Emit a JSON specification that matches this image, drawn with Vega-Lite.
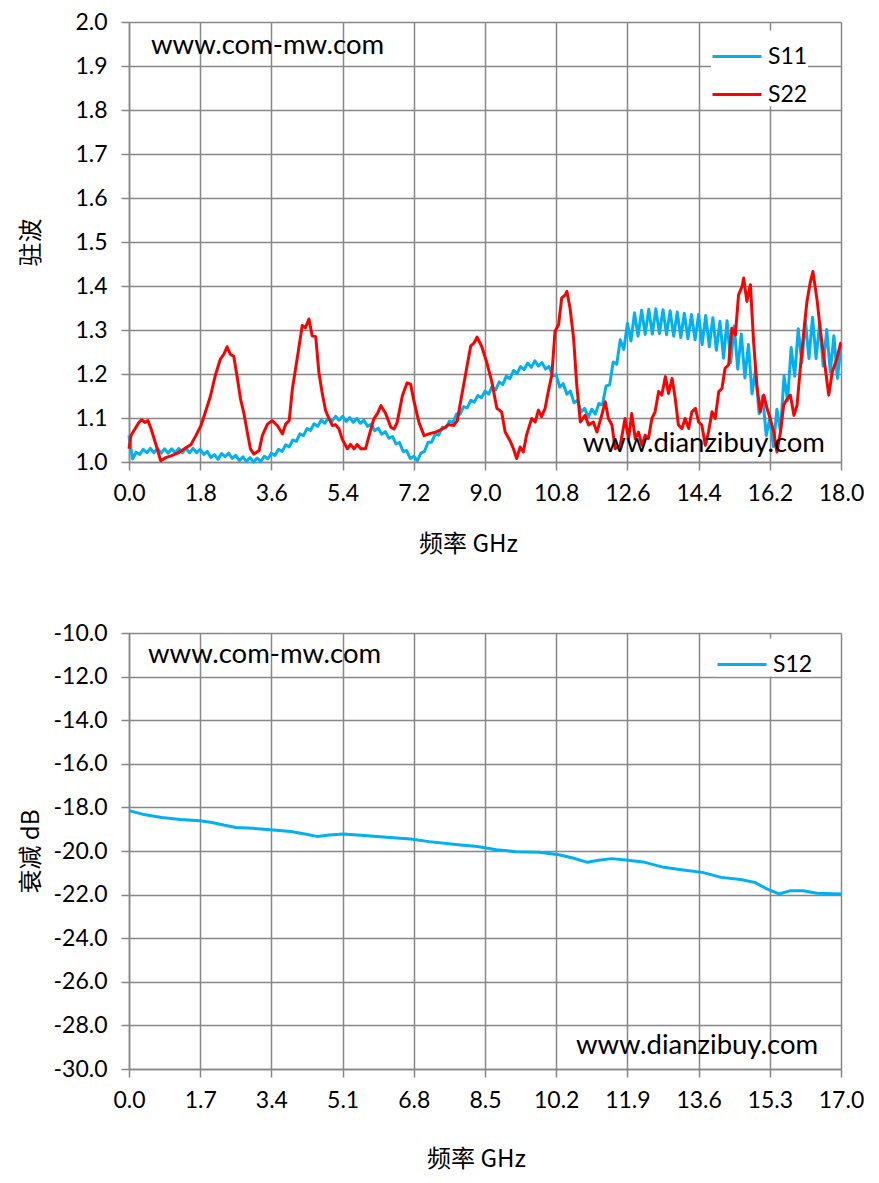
{
  "$schema": "https://vega.github.io/schema/vega-lite/v6.json",
  "background": "white",
  "padding": {"left": 19, "top": 11, "right": 0, "bottom": 20},
  "spacing": 66,
  "datasets": {
    "s11": [
      {"f":0,"v":1.06},{"f":0.09,"v":1.007},{"f":0.18,"v":1.022},{"f":0.27,"v":1.017},{"f":0.36,"v":1.029},{"f":0.45,"v":1.021},
      {"f":0.54,"v":1.031},{"f":0.63,"v":1.021},{"f":0.72,"v":1.031},{"f":0.81,"v":1.02},{"f":0.9,"v":1.03},{"f":0.99,"v":1.02},
      {"f":1.08,"v":1.03},{"f":1.17,"v":1.021},{"f":1.26,"v":1.031},{"f":1.35,"v":1.021},{"f":1.44,"v":1.031},{"f":1.53,"v":1.021},
      {"f":1.62,"v":1.031},{"f":1.71,"v":1.021},{"f":1.8,"v":1.029},{"f":1.89,"v":1.017},{"f":1.98,"v":1.024},{"f":2.07,"v":1.01},
      {"f":2.16,"v":1.017},{"f":2.25,"v":1.006},{"f":2.34,"v":1.019},{"f":2.43,"v":1.012},{"f":2.52,"v":1.02},{"f":2.61,"v":1.008},
      {"f":2.7,"v":1.015},{"f":2.79,"v":1.003},{"f":2.88,"v":1.012},{"f":2.97,"v":1.001},{"f":3.06,"v":1.01},{"f":3.15,"v":1.0},
      {"f":3.24,"v":1.009},{"f":3.33,"v":1.001},{"f":3.42,"v":1.013},{"f":3.51,"v":1.007},{"f":3.6,"v":1.02},{"f":3.69,"v":1.015},
      {"f":3.78,"v":1.029},{"f":3.87,"v":1.024},{"f":3.96,"v":1.039},{"f":4.05,"v":1.034},{"f":4.14,"v":1.05},{"f":4.23,"v":1.047},
      {"f":4.32,"v":1.064},{"f":4.41,"v":1.06},{"f":4.5,"v":1.076},{"f":4.59,"v":1.072},{"f":4.68,"v":1.087},{"f":4.77,"v":1.081},
      {"f":4.86,"v":1.095},{"f":4.95,"v":1.088},{"f":5.04,"v":1.1},{"f":5.13,"v":1.092},{"f":5.22,"v":1.104},{"f":5.31,"v":1.095},
      {"f":5.4,"v":1.104},{"f":5.49,"v":1.092},{"f":5.58,"v":1.101},{"f":5.67,"v":1.09},{"f":5.76,"v":1.099},{"f":5.85,"v":1.088},
      {"f":5.94,"v":1.095},{"f":6.03,"v":1.081},{"f":6.12,"v":1.086},{"f":6.21,"v":1.071},{"f":6.3,"v":1.077},{"f":6.39,"v":1.063},
      {"f":6.48,"v":1.069},{"f":6.57,"v":1.054},{"f":6.66,"v":1.058},{"f":6.75,"v":1.041},{"f":6.84,"v":1.044},{"f":6.93,"v":1.024},
      {"f":7.02,"v":1.026},{"f":7.11,"v":1.008},{"f":7.2,"v":1.013},{"f":7.29,"v":1.003},{"f":7.38,"v":1.02},{"f":7.47,"v":1.024},
      {"f":7.56,"v":1.045},{"f":7.65,"v":1.045},{"f":7.74,"v":1.063},{"f":7.83,"v":1.061},{"f":7.92,"v":1.079},{"f":8.01,"v":1.077},
      {"f":8.1,"v":1.093},{"f":8.19,"v":1.09},{"f":8.28,"v":1.109},{"f":8.37,"v":1.109},{"f":8.46,"v":1.126},{"f":8.55,"v":1.123},
      {"f":8.64,"v":1.14},{"f":8.73,"v":1.136},{"f":8.82,"v":1.151},{"f":8.91,"v":1.146},{"f":9.0,"v":1.161},{"f":9.09,"v":1.154},
      {"f":9.18,"v":1.171},{"f":9.27,"v":1.164},{"f":9.36,"v":1.182},{"f":9.45,"v":1.176},{"f":9.54,"v":1.195},{"f":9.63,"v":1.189},
      {"f":9.72,"v":1.208},{"f":9.81,"v":1.201},{"f":9.9,"v":1.217},{"f":9.99,"v":1.21},{"f":10.08,"v":1.225},{"f":10.17,"v":1.215},
      {"f":10.26,"v":1.23},{"f":10.35,"v":1.218},{"f":10.44,"v":1.226},{"f":10.53,"v":1.211},{"f":10.62,"v":1.217},{"f":10.71,"v":1.196},
      {"f":10.8,"v":1.198},{"f":10.89,"v":1.17},{"f":10.98,"v":1.178},{"f":11.07,"v":1.154},{"f":11.16,"v":1.161},{"f":11.25,"v":1.135},
      {"f":11.34,"v":1.14},{"f":11.43,"v":1.114},{"f":11.52,"v":1.122},{"f":11.61,"v":1.102},{"f":11.7,"v":1.12},{"f":11.79,"v":1.109},
      {"f":11.88,"v":1.133},{"f":11.97,"v":1.13},{"f":12.06,"v":1.173},{"f":12.15,"v":1.175},{"f":12.24,"v":1.227},{"f":12.33,"v":1.222},
      {"f":12.42,"v":1.278},{"f":12.51,"v":1.256},{"f":12.6,"v":1.315},{"f":12.69,"v":1.275},{"f":12.78,"v":1.339},{"f":12.87,"v":1.286},
      {"f":12.96,"v":1.345},{"f":13.05,"v":1.29},{"f":13.14,"v":1.347},{"f":13.23,"v":1.291},{"f":13.32,"v":1.348},{"f":13.41,"v":1.292},
      {"f":13.5,"v":1.346},{"f":13.59,"v":1.289},{"f":13.68,"v":1.344},{"f":13.77,"v":1.286},{"f":13.86,"v":1.341},{"f":13.95,"v":1.283},
      {"f":14.04,"v":1.338},{"f":14.13,"v":1.28},{"f":14.22,"v":1.335},{"f":14.31,"v":1.278},{"f":14.4,"v":1.335},{"f":14.49,"v":1.267},
      {"f":14.58,"v":1.333},{"f":14.67,"v":1.262},{"f":14.76,"v":1.328},{"f":14.85,"v":1.254},{"f":14.94,"v":1.32},{"f":15.03,"v":1.236},
      {"f":15.12,"v":1.321},{"f":15.21,"v":1.226},{"f":15.3,"v":1.309},{"f":15.39,"v":1.211},{"f":15.48,"v":1.291},{"f":15.57,"v":1.191},
      {"f":15.66,"v":1.267},{"f":15.75,"v":1.155},{"f":15.84,"v":1.21},{"f":15.93,"v":1.11},{"f":16.02,"v":1.15},{"f":16.11,"v":1.06},
      {"f":16.2,"v":1.1},{"f":16.29,"v":1.035},{"f":16.38,"v":1.12},{"f":16.47,"v":1.07},{"f":16.56,"v":1.195},{"f":16.65,"v":1.14},
      {"f":16.74,"v":1.26},{"f":16.83,"v":1.195},{"f":16.92,"v":1.303},{"f":17.01,"v":1.225},{"f":17.1,"v":1.322},{"f":17.19,"v":1.235},
      {"f":17.28,"v":1.329},{"f":17.37,"v":1.235},{"f":17.46,"v":1.316},{"f":17.55,"v":1.218},{"f":17.64,"v":1.301},{"f":17.73,"v":1.205},
      {"f":17.82,"v":1.287},{"f":17.91,"v":1.19},{"f":18.0,"v":1.265}
    ],
    "s22": [
      {"f":0,"v":1.03},{"f":0.05,"v":1.06},{"f":0.15,"v":1.075},{"f":0.25,"v":1.09},{"f":0.32,"v":1.096},{"f":0.4,"v":1.09},
      {"f":0.48,"v":1.094},{"f":0.56,"v":1.075},{"f":0.69,"v":1.037},{"f":0.8,"v":1.003},{"f":0.93,"v":1.01},{"f":1.06,"v":1.014},
      {"f":1.23,"v":1.02},{"f":1.4,"v":1.03},{"f":1.57,"v":1.04},{"f":1.69,"v":1.06},{"f":1.82,"v":1.083},{"f":1.93,"v":1.113},
      {"f":2.06,"v":1.15},{"f":2.18,"v":1.196},{"f":2.31,"v":1.234},{"f":2.4,"v":1.245},{"f":2.48,"v":1.262},{"f":2.56,"v":1.245},
      {"f":2.65,"v":1.24},{"f":2.73,"v":1.196},{"f":2.82,"v":1.143},{"f":2.9,"v":1.113},{"f":2.99,"v":1.068},{"f":3.07,"v":1.03},
      {"f":3.16,"v":1.018},{"f":3.29,"v":1.026},{"f":3.37,"v":1.06},{"f":3.5,"v":1.086},{"f":3.62,"v":1.094},{"f":3.75,"v":1.083},
      {"f":3.88,"v":1.064},{"f":3.96,"v":1.086},{"f":4.05,"v":1.094},{"f":4.13,"v":1.166},{"f":4.26,"v":1.24},{"f":4.38,"v":1.31},
      {"f":4.46,"v":1.305},{"f":4.55,"v":1.325},{"f":4.63,"v":1.287},{"f":4.72,"v":1.285},{"f":4.8,"v":1.204},{"f":4.88,"v":1.159},
      {"f":4.97,"v":1.117},{"f":5.05,"v":1.1},{"f":5.14,"v":1.083},{"f":5.22,"v":1.085},{"f":5.31,"v":1.075},{"f":5.39,"v":1.052},
      {"f":5.52,"v":1.03},{"f":5.6,"v":1.04},{"f":5.69,"v":1.03},{"f":5.77,"v":1.04},{"f":5.86,"v":1.03},{"f":5.98,"v":1.03},
      {"f":6.07,"v":1.06},{"f":6.19,"v":1.098},{"f":6.28,"v":1.11},{"f":6.37,"v":1.128},{"f":6.49,"v":1.11},{"f":6.62,"v":1.079},
      {"f":6.7,"v":1.075},{"f":6.78,"v":1.09},{"f":6.91,"v":1.15},{"f":7.03,"v":1.18},{"f":7.12,"v":1.177},{"f":7.2,"v":1.14},
      {"f":7.33,"v":1.09},{"f":7.46,"v":1.06},{"f":7.58,"v":1.064},{"f":7.75,"v":1.068},{"f":7.92,"v":1.075},{"f":8.09,"v":1.085},
      {"f":8.21,"v":1.083},{"f":8.3,"v":1.094},{"f":8.38,"v":1.136},{"f":8.51,"v":1.2},{"f":8.64,"v":1.264},{"f":8.72,"v":1.27},
      {"f":8.8,"v":1.284},{"f":8.92,"v":1.262},{"f":9.04,"v":1.228},{"f":9.17,"v":1.183},{"f":9.3,"v":1.122},{"f":9.42,"v":1.114},
      {"f":9.51,"v":1.068},{"f":9.63,"v":1.049},{"f":9.72,"v":1.03},{"f":9.8,"v":1.008},{"f":9.89,"v":1.034},{"f":9.97,"v":1.023},
      {"f":10.05,"v":1.061},{"f":10.18,"v":1.099},{"f":10.27,"v":1.091},{"f":10.35,"v":1.118},{"f":10.43,"v":1.103},{"f":10.52,"v":1.122},
      {"f":10.6,"v":1.16},{"f":10.69,"v":1.198},{"f":10.77,"v":1.297},{"f":10.86,"v":1.312},{"f":10.94,"v":1.373},{"f":11.03,"v":1.38},
      {"f":11.07,"v":1.388},{"f":11.15,"v":1.35},{"f":11.24,"v":1.281},{"f":11.32,"v":1.175},{"f":11.41,"v":1.091},{"f":11.53,"v":1.106},
      {"f":11.62,"v":1.084},{"f":11.74,"v":1.091},{"f":11.83,"v":1.068},{"f":11.95,"v":1.106},{"f":12.04,"v":1.137},{"f":12.12,"v":1.099},
      {"f":12.21,"v":1.084},{"f":12.29,"v":1.03},{"f":12.42,"v":1.038},{"f":12.54,"v":1.099},{"f":12.63,"v":1.053},{"f":12.71,"v":1.11},
      {"f":12.8,"v":1.053},{"f":12.88,"v":1.068},{"f":12.97,"v":1.038},{"f":13.05,"v":1.061},{"f":13.13,"v":1.053},{"f":13.22,"v":1.099},
      {"f":13.3,"v":1.114},{"f":13.39,"v":1.16},{"f":13.47,"v":1.152},{"f":13.56,"v":1.194},{"f":13.64,"v":1.156},{"f":13.73,"v":1.19},
      {"f":13.81,"v":1.144},{"f":13.89,"v":1.084},{"f":13.98,"v":1.076},{"f":14.06,"v":1.099},{"f":14.15,"v":1.076},{"f":14.23,"v":1.114},
      {"f":14.32,"v":1.122},{"f":14.4,"v":1.091},{"f":14.48,"v":1.084},{"f":14.57,"v":1.038},{"f":14.65,"v":1.068},{"f":14.74,"v":1.114},
      {"f":14.82,"v":1.099},{"f":14.91,"v":1.16},{"f":14.99,"v":1.167},{"f":15.07,"v":1.213},{"f":15.16,"v":1.221},{"f":15.24,"v":1.304},
      {"f":15.33,"v":1.289},{"f":15.41,"v":1.38},{"f":15.5,"v":1.399},{"f":15.54,"v":1.418},{"f":15.62,"v":1.365},{"f":15.71,"v":1.403},
      {"f":15.79,"v":1.274},{"f":15.88,"v":1.167},{"f":15.96,"v":1.114},{"f":16.05,"v":1.152},{"f":16.13,"v":1.122},{"f":16.21,"v":1.099},
      {"f":16.3,"v":1.068},{"f":16.38,"v":1.023},{"f":16.47,"v":1.068},{"f":16.55,"v":1.129},{"f":16.64,"v":1.144},{"f":16.72,"v":1.152},
      {"f":16.81,"v":1.106},{"f":16.89,"v":1.129},{"f":16.97,"v":1.213},{"f":17.06,"v":1.297},{"f":17.14,"v":1.365},{"f":17.22,"v":1.407},
      {"f":17.29,"v":1.433},{"f":17.4,"v":1.365},{"f":17.48,"v":1.297},{"f":17.57,"v":1.236},{"f":17.69,"v":1.152},{"f":17.78,"v":1.205},
      {"f":17.9,"v":1.236},{"f":17.99,"v":1.27},{"f":18.0,"v":1.27}
    ],
    "notes1": [
      {"f":0.556,"v":1.927,"t":"www.com-mw.com"},
      {"f":11.47,"v":1.0234,"t":"www.dianzibuy.com"}
    ],
    "s12": [
      {"f":0,"v":-18.15},{"f":0.32,"v":-18.31},{"f":0.78,"v":-18.46},{"f":1.23,"v":-18.55},{"f":1.69,"v":-18.61},{"f":1.98,"v":-18.69},
      {"f":2.26,"v":-18.81},{"f":2.55,"v":-18.92},{"f":2.95,"v":-18.96},{"f":3.38,"v":-19.02},{"f":3.86,"v":-19.11},{"f":4.2,"v":-19.22},
      {"f":4.49,"v":-19.33},{"f":4.78,"v":-19.27},{"f":5.12,"v":-19.22},{"f":5.69,"v":-19.3},{"f":6.15,"v":-19.37},{"f":6.72,"v":-19.45},
      {"f":7.17,"v":-19.57},{"f":7.86,"v":-19.71},{"f":8.32,"v":-19.79},{"f":8.77,"v":-19.94},{"f":9.23,"v":-20.03},{"f":9.8,"v":-20.06},
      {"f":10.26,"v":-20.17},{"f":10.6,"v":-20.32},{"f":10.95,"v":-20.52},{"f":11.17,"v":-20.44},{"f":11.52,"v":-20.35},{"f":11.86,"v":-20.41},
      {"f":12.32,"v":-20.52},{"f":12.77,"v":-20.75},{"f":13.23,"v":-20.87},{"f":13.69,"v":-20.98},{"f":14.14,"v":-21.21},{"f":14.6,"v":-21.31},
      {"f":14.94,"v":-21.44},{"f":15.23,"v":-21.74},{"f":15.52,"v":-21.97},{"f":15.8,"v":-21.82},{"f":16.09,"v":-21.82},{"f":16.43,"v":-21.94},
      {"f":17.0,"v":-21.97}
    ],
    "notes2": [
      {"f":0.454,"v":-11.376,"t":"www.com-mw.com"},
      {"f":10.67,"v":-29.33,"t":"www.dianzibuy.com"}
    ]
  },
  "vconcat": [
    {
      "width": 712,
      "height": 440,
      "encoding": {
        "x": {
          "field": "f", "type": "quantitative",
          "scale": {"domain": [0, 18], "nice": false, "zero": false},
          "axis": {
            "values": [0, 1.8, 3.6, 5.4, 7.2, 9, 10.8, 12.6, 14.4, 16.2, 18],
            "format": ".1f", "title": "频率  GHz",
            "titleX": 339, "titleY": 82, "titleBaseline": "middle"
          }
        },
        "y": {
          "field": "v", "type": "quantitative",
          "scale": {"domain": [1, 2], "nice": false, "zero": false},
          "axis": {
            "values": [1, 1.1, 1.2, 1.3, 1.4, 1.5, 1.6, 1.7, 1.8, 1.9, 2],
            "format": ".1f", "title": "驻波",
            "titleX": -98, "titleY": 220, "titleBaseline": "middle", "titleAngle": -90
          }
        }
      },
      "layer": [
        {
          "data": {"name": "s11"},
          "mark": {"type": "line", "strokeWidth": 3, "strokeJoin": "round"},
          "encoding": {
            "color": {
              "datum": "S11", "type": "nominal",
              "scale": {"domain": ["S11", "S22"], "range": ["#00B0F0", "#FF0000"]},
              "legend": {
                "orient": "none", "legendX": 582, "legendY": 8.5, "title": null,
                "symbolType": "stroke", "symbolSize": 2401, "symbolStrokeWidth": 3,
                "labelFont": "Lato", "labelFontSize": 23, "labelColor": "black", "labelOffset": 5,
                "fillColor": "white", "padding": 0, "rowPadding": 0
              }
            }
          }
        },
        {
          "data": {"name": "s22"},
          "mark": {"type": "line", "strokeWidth": 3, "strokeJoin": "round"},
          "encoding": {"color": {"datum": "S22", "type": "nominal"}}
        },
        {
          "data": {"name": "notes1"},
          "mark": {"type": "text", "align": "left", "baseline": "alphabetic", "font": "Lato", "fontSize": 27.5, "color": "black"},
          "encoding": {"text": {"field": "t"}}
        }
      ]
    },
    {
      "width": 712,
      "height": 436,
      "encoding": {
        "x": {
          "field": "f", "type": "quantitative",
          "scale": {"domain": [0, 17], "nice": false, "zero": false},
          "axis": {
            "values": [0, 1.7, 3.4, 5.1, 6.8, 8.5, 10.2, 11.9, 13.6, 15.3, 17],
            "format": ".1f", "title": "频率  GHz",
            "titleX": 347, "titleY": 90, "titleBaseline": "middle"
          }
        },
        "y": {
          "field": "v", "type": "quantitative",
          "scale": {"domain": [-30, -10], "nice": false, "zero": false},
          "axis": {
            "values": [-30, -28, -26, -24, -22, -20, -18, -16, -14, -12, -10],
            "labelExpr": "replace(format(datum.value, '.1f'), '−', '-')",
            "title": "衰减 dB",
            "titleX": -98, "titleY": 218, "titleBaseline": "middle", "titleAngle": -90
          }
        }
      },
      "layer": [
        {
          "data": {"name": "s12"},
          "mark": {"type": "line", "strokeWidth": 3, "strokeJoin": "round"},
          "encoding": {
            "color": {
              "datum": "S12", "type": "nominal",
              "scale": {"domain": ["S12"], "range": ["#00B0F0"]},
              "legend": {
                "orient": "none", "legendX": 587, "legendY": 5.5, "title": null,
                "symbolType": "stroke", "symbolSize": 2401, "symbolStrokeWidth": 3,
                "labelFont": "Lato", "labelFontSize": 23, "labelColor": "black", "labelOffset": 5,
                "fillColor": "white", "padding": 0, "rowPadding": 0
              }
            }
          }
        },
        {
          "data": {"name": "notes2"},
          "mark": {"type": "text", "align": "left", "baseline": "alphabetic", "font": "Lato", "fontSize": 27.5, "color": "black"},
          "encoding": {"text": {"field": "t"}}
        }
      ]
    }
  ],
  "resolve": {"scale": {"color": "independent"}, "legend": {"color": "independent"}},
  "config": {
    "view": {"stroke": null},
    "axis": {
      "grid": true, "gridColor": "#878787", "gridWidth": 1.5, "gridOpacity": 1,
      "domainColor": "#878787", "domainWidth": 1.5,
      "tickColor": "#878787", "tickWidth": 1.5, "tickSize": 8,
      "labelFont": "Lato", "labelFontSize": 23, "labelColor": "black",
      "labelFlush": false, "labelOverlap": false,
      "titleFont": "Noto Sans CJK SC", "titleFontSize": 24, "titleFontWeight": "normal", "titleColor": "black"
    },
    "axisX": {"labelPadding": 12},
    "axisY": {"labelPadding": 14}
  }
}
